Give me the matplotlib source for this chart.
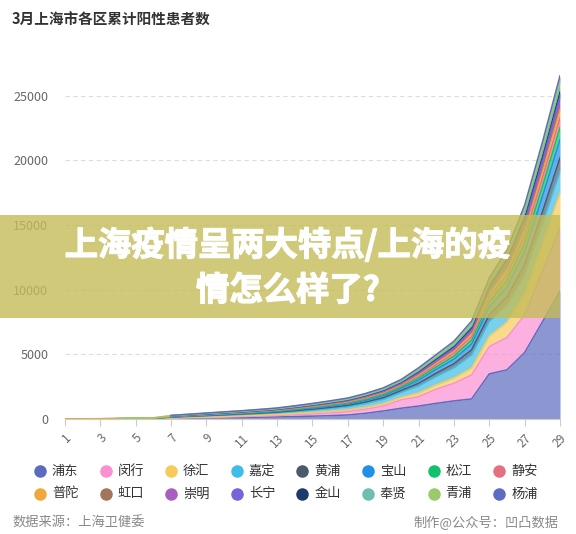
import numpy as np
import matplotlib
matplotlib.use("Agg")
import matplotlib.pyplot as plt
import matplotlib.patheffects as pe
from matplotlib.patches import Rectangle
from matplotlib.lines import Line2D

plt.rcParams['font.family'] = ['Noto Sans CJK SC', 'DejaVu Sans']

nan = np.nan
days = list(range(1, 30))

districts = ["浦东", "闵行", "徐汇", "嘉定", "黄浦", "宝山", "松江", "静安",
             "普陀", "虹口", "崇明", "长宁", "金山", "奉贤", "青浦", "杨浦"]
colors = ["#5b6bc0", "#fb8fd2", "#f7cb5a", "#3fbde6", "#4b5b6b", "#1f8fe8", "#12c16b", "#e5707f",
          "#f2a63c", "#a3765a", "#a95fc0", "#7a62d8", "#1c3b6b", "#6cc0ad", "#9bca6c", "#5d6cc2"]

# cumulative positives per district, March 1..29
pudong = [2, 3, 5, 8, 10, 15, 40, 60, 80, 100, 120, 140, 160, 190, 220, 260, 310, 440, 620, 830,
          1000, 1210, 1400, 1550, 3490, 3800, 5140, 7500, 9870]
minhang = [0, 0, 1, 2, 3, 5, 20, 30, 40, 50, 70, 90, 110, 140, 170, 210, 260, 310, 380, 640,
           730, 1090, 1360, 1860, 2110, 2500, 2900, 3900, 4910]
xuhui = [1, 1, 2, 3, 5, 8, 25, 33, 40, 48, 54, 62, 71, 84, 100, 115, 130, 151, 174, 195,
         277, 335, 407, 520, 795, 1190, 1700, 2150, 2710]
jiading = [2, 3, 4, 6, 9, 14, 50, 65, 80, 95, 107, 122, 139, 167, 197, 227, 256, 299, 344, 386,
           548, 662, 804, 1030, 1166, 1326, 1445, 1550, 1680]
huangpu = [1, 1, 2, 3, 4, 6, 19, 24, 30, 36, 40, 46, 53, 63, 74, 86, 97, 113, 130, 146,
           207, 250, 304, 390, 493, 619, 765, 890, 1030]
baoshan = [1, 2, 3, 4, 6, 8, 22, 28, 35, 41, 47, 53, 61, 73, 86, 99, 112, 131, 150, 169,
           240, 290, 352, 450, 594, 782, 1003, 1200, 1420]
songjiang = [0, 1, 1, 2, 3, 5, 15, 19, 23, 28, 31, 36, 41, 49, 58, 66, 75, 88, 101, 113,
             161, 194, 236, 300, 392, 510, 646, 770, 910]
jingan = [1, 1, 2, 3, 4, 6, 14, 18, 22, 26, 29, 33, 38, 46, 54, 62, 70, 82, 94, 105,
          150, 181, 220, 280, 360, 456, 570, 660, 770]
putuo = [2, 3, 4, 5, 6, 8, 11, 14, 17, 20, 23, 26, 30, 36, 42, 48, 55, 64, 73, 82,
         117, 141, 171, 220, 276, 354, 434, 510, 600]
hongkou = [nan] * 6 + [7, 9, 12, 14, 15, 18, 20, 24, 28, 33, 37, 43, 50, 56,
                       79, 96, 116, 150, 191, 238, 298, 340, 400]
chongming = [nan] * 6 + [0, 2, 3, 4, 5, 6, 8, 10, 12, 14, 15, 18, 21, 23,
                         33, 40, 48, 60, 85, 122, 162, 200, 250]
changning = [nan] * 6 + [6, 8, 10, 12, 13, 15, 17, 21, 24, 28, 32, 37, 43, 48,
                         68, 82, 100, 130, 159, 190, 230, 260, 300]
jinshan = [nan] * 6 + [7, 9, 12, 14, 15, 18, 20, 24, 28, 33, 37, 43, 50, 56,
                       79, 96, 116, 150, 201, 272, 357, 430, 520]
fengxian = [nan] * 6 + [5, 7, 9, 10, 12, 13, 15, 18, 21, 25, 28, 32, 37, 42,
                        59, 72, 87, 110, 143, 184, 238, 280, 330]
qingpu = [nan, nan, nan, 8, 14, 20, 30, 32, 35, 38, 40, 42, 44, 48, 52, 57, 61, 67, 74, 80,
          103, 120, 140, 174, 210, 248, 288, 324, 374]
yangpu = [nan] * 6 + [10, 12, 15, 18, 21, 24, 27, 32, 38, 44, 49, 58, 66, 74,
                      106, 128, 155, 200, 249, 306, 366, 420, 480]

series = [pudong, minhang, xuhui, jiading, huangpu, baoshan, songjiang, jingan,
          putuo, hongkou, chongming, changning, jinshan, fengxian, qingpu, yangpu]

W, H = 576, 534
fig = plt.figure(figsize=(W / 100, H / 100), dpi=100)
ax = fig.add_axes([65 / W, 1 - 419 / H, (560 - 65) / W, (419 - 70) / H])

x = np.array(days)
bottom = np.zeros(len(days))
for vals, c in zip(series, colors):
    v = np.array(vals, dtype=float)
    ok = ~np.isnan(v)
    top = bottom + np.nan_to_num(v)
    ax.fill_between(x, bottom, top, where=ok, color=c, alpha=0.7, lw=0, interpolate=False)
    ax.plot(x, np.where(ok, top, np.nan), color=c, lw=1.1, solid_joinstyle="round")
    bottom = top

ax.set_xlim(1, 29)
ax.set_ylim(0, 27000)
ax.set_yticks([0, 5000, 10000, 15000, 20000, 25000])
ax.set_xticks(days[::2])
ax.set_xticklabels([str(d) for d in days[::2]], rotation=45, ha="right", va="top",
                   rotation_mode="anchor", fontsize=8.5, color="#666666")
ax.tick_params(axis="y", length=0, labelsize=9, labelcolor="#666666", pad=12)
ax.tick_params(axis="x", length=5, color="#cccccc", pad=4)
for s in ["top", "right", "left"]:
    ax.spines[s].set_visible(False)
ax.spines["bottom"].set_color("#cccccc")
ax.grid(axis="y", color="#dddddd", linestyle=(0, (4, 3)), lw=0.8)
ax.set_axisbelow(True)

fig.text(12 / W, 1 - 20 / H, "3月上海市各区累计阳性患者数", fontsize=10.5,
         fontweight="bold", color="#333333", va="center", ha="left")

# legend, two rows of eight
for i, (name, c) in enumerate(zip(districts, colors)):
    col, row = i % 8, i // 8
    lx = 40 + col * 65.6
    ly = 471 + row * 23
    fig.add_artist(Line2D([lx / W], [1 - ly / H], marker="o", ms=8, color=c,
                          transform=fig.transFigure, lw=0))
    fig.text((lx + 12) / W, 1 - ly / H, name, fontsize=9.5, color="#333333",
             va="center", ha="left")

fig.text(12 / W, 1 - 523 / H, "数据来源：上海卫健委", fontsize=9.5, color="#888888",
         va="center", ha="left")
fig.text(558 / W, 1 - 523 / H, "制作@公众号：凹凸数据", fontsize=9.5, color="#888888",
         va="center", ha="right")

# banner overlay
fig.add_artist(Rectangle((0, 1 - 318 / H), 560 / W, 103 / H, transform=fig.transFigure,
                         facecolor="#c4bc58", alpha=0.8, lw=0, zorder=10))
thick = [pe.withStroke(linewidth=0.9, foreground="white")]
fig.text(288 / W, 1 - 245 / H, "上海疫情呈两大特点/上海的疫", fontsize=24, fontweight="heavy",
         color="white", ha="center", va="center", zorder=11, path_effects=thick)
fig.text(288 / W, 1 - 291 / H, "情怎么样了?", fontsize=24, fontweight="heavy",
         color="white", ha="center", va="center", zorder=11, path_effects=thick)

fig.savefig("out.png", dpi=100)
